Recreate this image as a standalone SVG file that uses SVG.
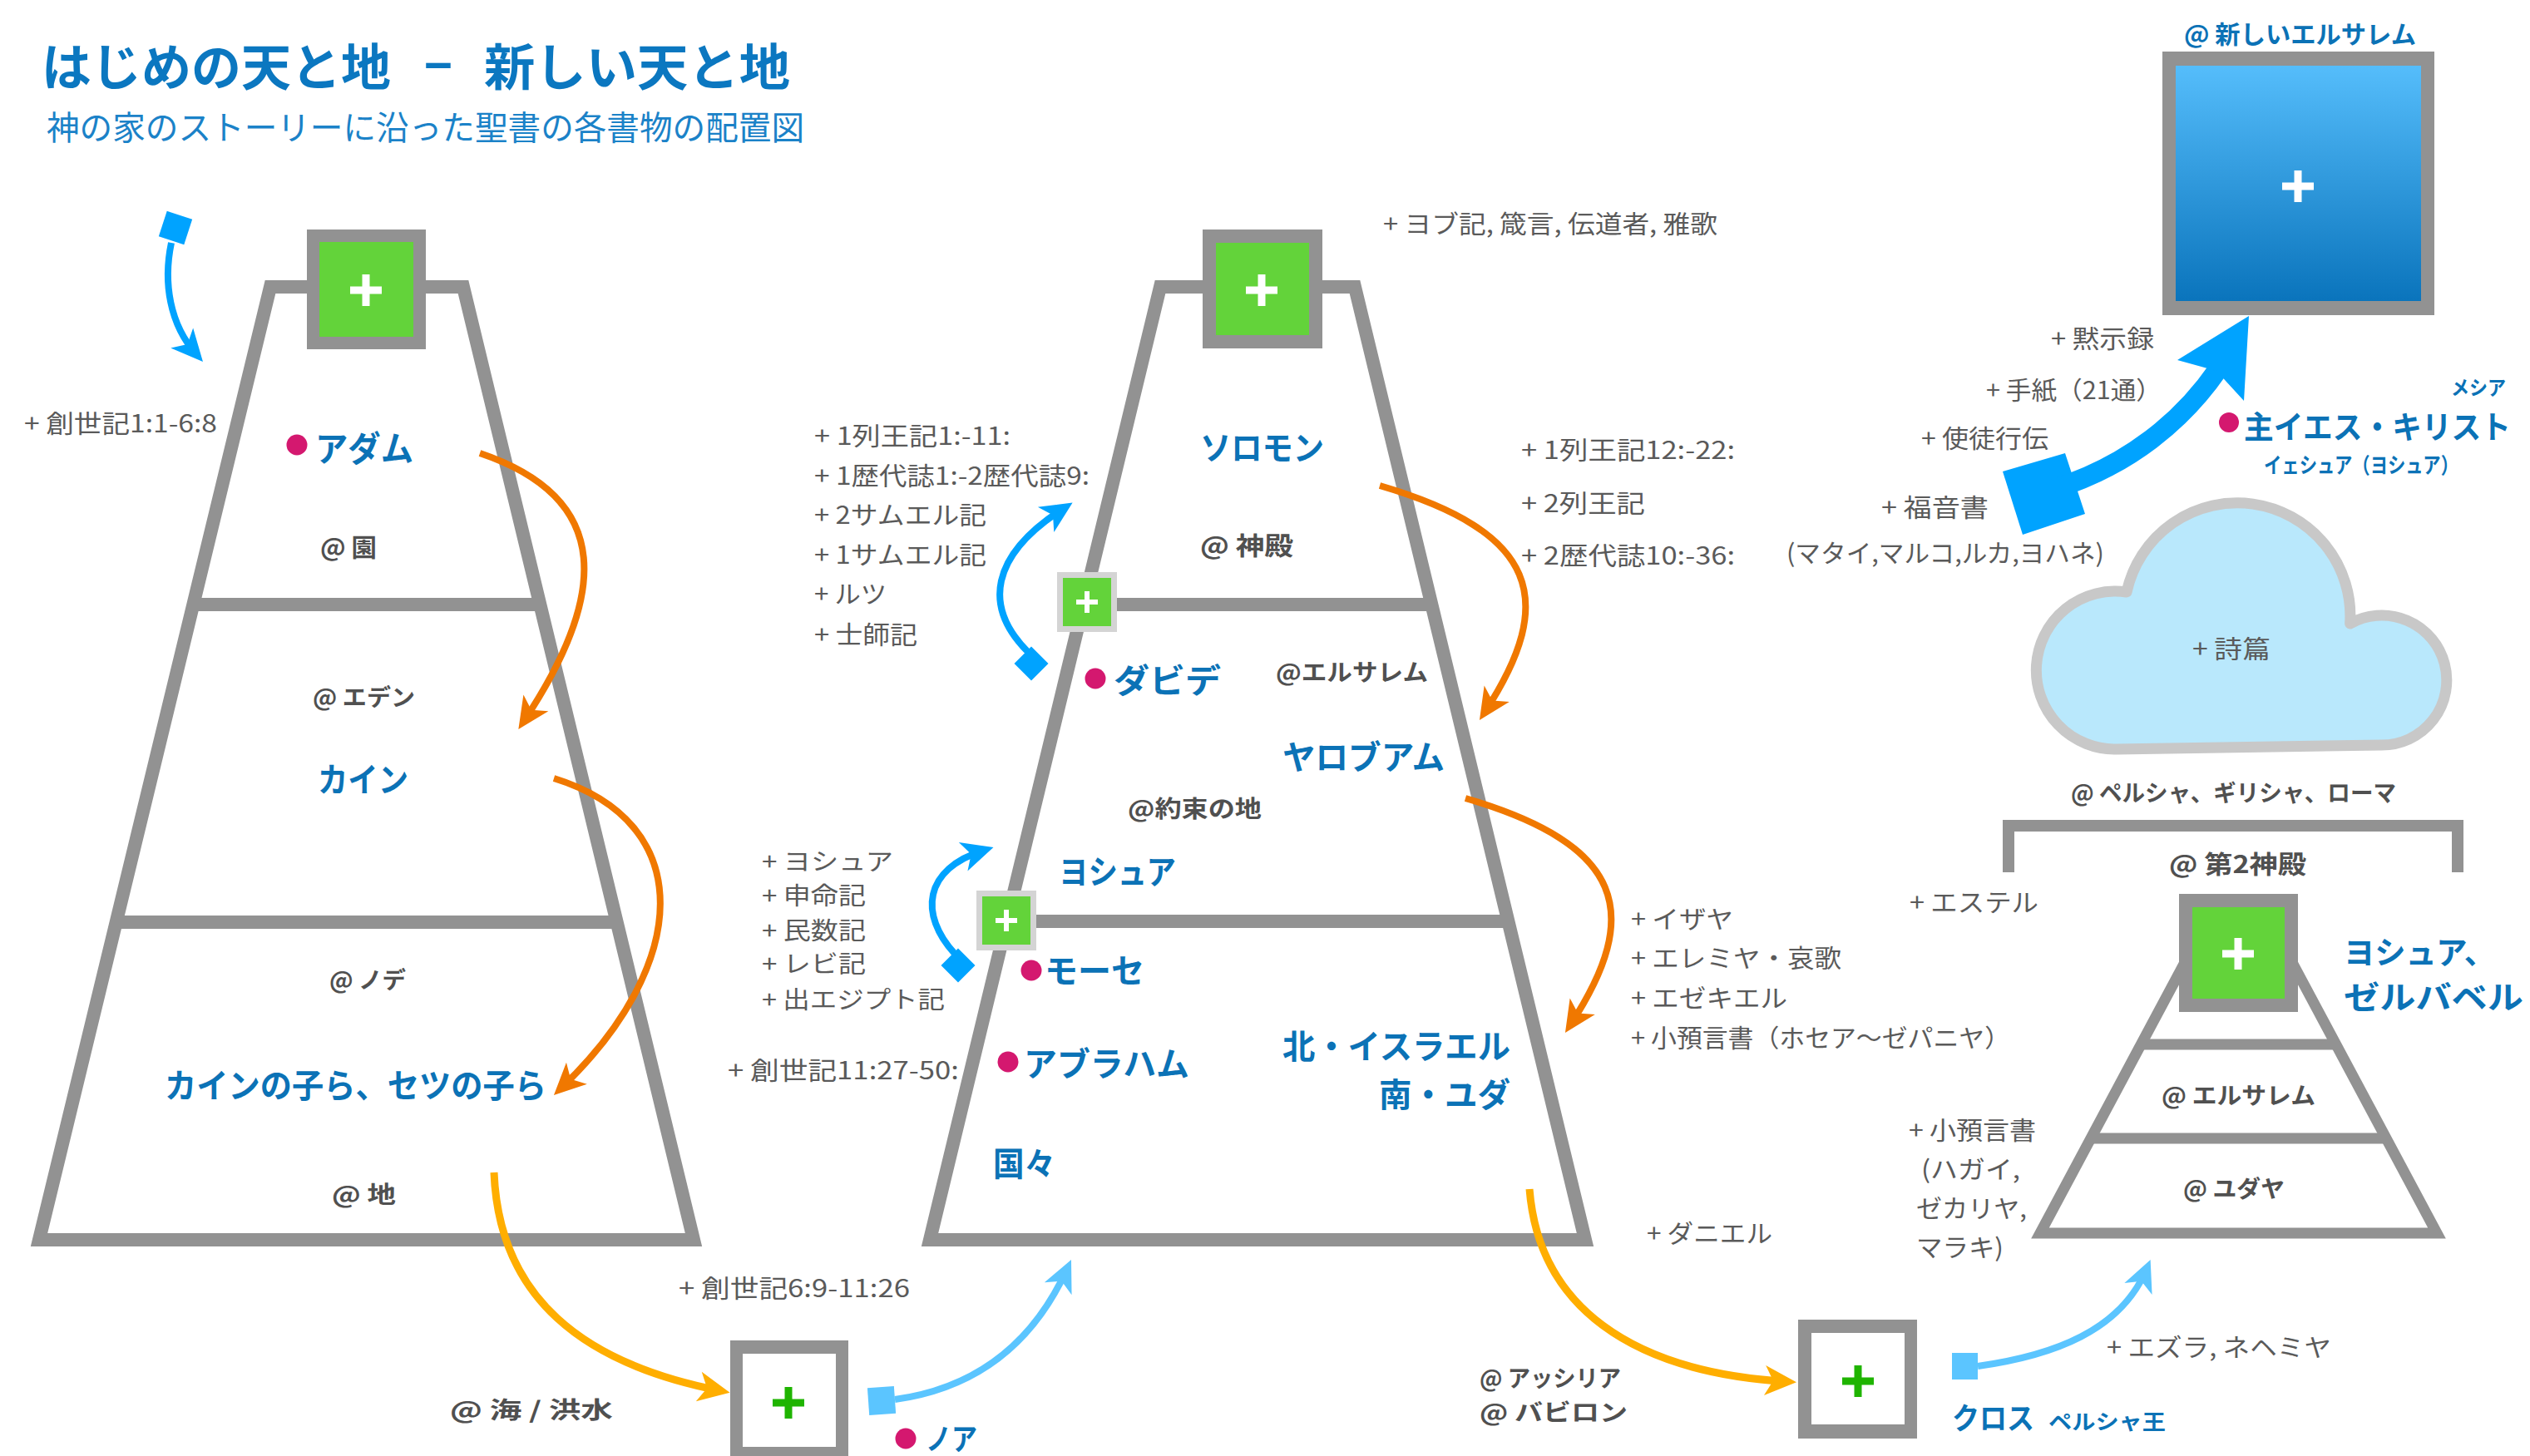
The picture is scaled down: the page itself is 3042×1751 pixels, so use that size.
<svg xmlns="http://www.w3.org/2000/svg" width="3042" height="1751" viewBox="0 0 3042 1751">
<defs>
<style>
text{font-family:"Noto Sans CJK JP","Noto Sans",sans-serif;}
.g{font-size:30px;fill:#5a5a5a;}
.at{font-size:30px;font-weight:700;fill:#505050;}
.nm{font-size:40px;font-weight:700;fill:#0b72b6;}
.frame{fill:none;stroke:#929292;stroke-width:16;stroke-linejoin:miter;}
.div{stroke:#929292;stroke-width:16;}
.dot{fill:#d4186f;}
.pw{stroke:#fff;stroke-width:9;}
.pg{stroke:#1fb400;stroke-width:9;}
.green{fill:#63d33a;}
.gray{fill:#929292;}
.conn{fill:none;}
</style>
<linearGradient id="njGrad" x1="0" y1="0" x2="0" y2="1">
<stop offset="0" stop-color="#55bdfb"/>
<stop offset="1" stop-color="#0a74bc"/>
</linearGradient>
<marker id="ahOrange" markerUnits="userSpaceOnUse" viewBox="-40 -30 60 60" markerWidth="60" markerHeight="60" refX="0" refY="0" orient="auto"><path d="M12,0 L-26,-18 L-16,0 L-26,18 Z" fill="#f07800"/></marker>
<marker id="ahAmber" markerUnits="userSpaceOnUse" viewBox="-40 -30 60 60" markerWidth="60" markerHeight="60" refX="0" refY="0" orient="auto"><path d="M12,0 L-26,-18 L-16,0 L-26,18 Z" fill="#ffae00"/></marker>
<marker id="ahBlue" markerUnits="userSpaceOnUse" viewBox="-40 -30 60 60" markerWidth="60" markerHeight="60" refX="0" refY="0" orient="auto"><path d="M12,0 L-26,-18 L-16,0 L-26,18 Z" fill="#00a3ff"/></marker>
<marker id="ahLight" markerUnits="userSpaceOnUse" viewBox="-40 -30 60 60" markerWidth="60" markerHeight="60" refX="0" refY="0" orient="auto"><path d="M12,0 L-26,-18 L-16,0 L-26,18 Z" fill="#5bc5ff"/></marker>
</defs>
<rect width="3042" height="1751" fill="#ffffff"/>

<g id="title">
<text x="50" y="103" font-size="60" font-weight="700" fill="#0b77c0" textLength="420" lengthAdjust="spacingAndGlyphs">はじめの天と地</text>
<text x="510" y="101" font-size="60" font-weight="700" fill="#0b77c0" textLength="34" lengthAdjust="spacingAndGlyphs">−</text>
<text x="582" y="103" font-size="60" font-weight="700" fill="#0b77c0" textLength="368" lengthAdjust="spacingAndGlyphs">新しい天と地</text>
<text x="56" y="168" font-size="40" fill="#1b82c8" textLength="911" lengthAdjust="spacingAndGlyphs">神の家のストーリーに沿った聖書の各書物の配置図</text>
</g>

<!-- Left pyramid -->
<g id="pyramid-beginning">
<polygon class="frame" points="325,345 557,345 834,1491 47,1491"/>
<line class="div" x1="233" y1="727" x2="649" y2="727"/>
<line class="div" x1="140" y1="1109" x2="742" y2="1109"/>
<rect class="gray" x="369" y="276" width="143" height="144"/>
<rect class="green" x="384" y="291" width="113" height="114"/>
<line class="pw" x1="421" y1="349" x2="459" y2="349"/>
<line class="pw" x1="440" y1="330" x2="440" y2="368"/>
<text class="g" x="29" y="520" textLength="232" lengthAdjust="spacingAndGlyphs">+ 創世記1:1-6:8</text>
<circle class="dot" cx="357" cy="535" r="12.5"/>
<text class="nm" x="379" y="555" style="font-size:42px" textLength="118" lengthAdjust="spacingAndGlyphs">アダム</text>
<text class="at" x="385" y="669" textLength="68" lengthAdjust="spacingAndGlyphs">@ 園</text>
<text class="at" x="376" y="849" style="font-size:28px" textLength="123" lengthAdjust="spacingAndGlyphs">@ エデン</text>
<text class="nm" x="382" y="952" textLength="109" lengthAdjust="spacingAndGlyphs">カイン</text>
<text class="at" x="396" y="1189" style="font-size:28px" textLength="92" lengthAdjust="spacingAndGlyphs">@ ノデ</text>
<text class="nm" x="198" y="1320" textLength="459" lengthAdjust="spacingAndGlyphs">カインの子ら、セツの子ら</text>
<text class="at" x="399" y="1447" style="font-size:28px" textLength="77" lengthAdjust="spacingAndGlyphs">@ 地</text>
</g>

<!-- Noah -->
<g id="noah">
<rect class="gray" x="878" y="1612" width="142" height="143"/>
<rect x="893" y="1628" width="112" height="112" fill="#ffffff"/>
<line class="pg" x1="929" y1="1687" x2="967" y2="1687"/>
<line class="pg" x1="948" y1="1668" x2="948" y2="1706"/>
<text class="g" x="816" y="1560" textLength="278" lengthAdjust="spacingAndGlyphs">+ 創世記6:9-11:26</text>
<text class="at" x="541" y="1706" style="font-size:28px" textLength="196" lengthAdjust="spacingAndGlyphs">@ 海 / 洪水</text>
<circle class="dot" cx="1089" cy="1730" r="12.5"/>
<text class="nm" x="1113" y="1744" style="font-size:36px" textLength="62" lengthAdjust="spacingAndGlyphs">ノア</text>
</g>

<!-- Middle pyramid -->
<g id="pyramid-israel">
<polygon class="frame" points="1395,345 1629,345 1906,1491 1118,1491"/>
<line class="div" x1="1303" y1="727" x2="1721" y2="727"/>
<line class="div" x1="1210" y1="1108" x2="1813" y2="1108"/>
<rect class="gray" x="1446" y="276" width="144" height="143"/>
<rect class="green" x="1462" y="292" width="112" height="111"/>
<line class="pw" x1="1498" y1="349" x2="1536" y2="349"/>
<line class="pw" x1="1517" y1="330" x2="1517" y2="368"/>
<rect x="1271" y="688" width="72" height="72" fill="#d4d4d4"/>
<rect class="green" x="1278" y="695" width="58" height="58"/>
<line x1="1294" y1="724" x2="1320" y2="724" stroke="#fff" stroke-width="6"/>
<line x1="1307" y1="711" x2="1307" y2="737" stroke="#fff" stroke-width="6"/>
<rect x="1174" y="1071" width="72" height="72" fill="#d4d4d4"/>
<rect class="green" x="1181" y="1078" width="58" height="58"/>
<line x1="1197" y1="1107" x2="1223" y2="1107" stroke="#fff" stroke-width="6"/>
<line x1="1210" y1="1094" x2="1210" y2="1120" stroke="#fff" stroke-width="6"/>
<text class="g" x="1663" y="280" textLength="402" lengthAdjust="spacingAndGlyphs">+ ヨブ記, 箴言, 伝道者, 雅歌</text>
<text class="g" x="979" y="535" textLength="236" lengthAdjust="spacingAndGlyphs">+ 1列王記1:-11:</text>
<text class="g" x="979" y="583" textLength="331" lengthAdjust="spacingAndGlyphs">+ 1歴代誌1:-2歴代誌9:</text>
<text class="g" x="979" y="630" textLength="207" lengthAdjust="spacingAndGlyphs">+ 2サムエル記</text>
<text class="g" x="979" y="678" textLength="207" lengthAdjust="spacingAndGlyphs">+ 1サムエル記</text>
<text class="g" x="979" y="725" textLength="87" lengthAdjust="spacingAndGlyphs">+ ルツ</text>
<text class="g" x="979" y="774" textLength="124" lengthAdjust="spacingAndGlyphs">+ 士師記</text>
<text class="nm" x="1443" y="553" textLength="149" lengthAdjust="spacingAndGlyphs">ソロモン</text>
<text class="at" x="1443" y="667" textLength="112" lengthAdjust="spacingAndGlyphs">@ 神殿</text>
<text class="g" x="1829" y="552" textLength="257" lengthAdjust="spacingAndGlyphs">+ 1列王記12:-22:</text>
<text class="g" x="1829" y="616" textLength="149" lengthAdjust="spacingAndGlyphs">+ 2列王記</text>
<text class="g" x="1829" y="679" textLength="257" lengthAdjust="spacingAndGlyphs">+ 2歴代誌10:-36:</text>
<circle class="dot" cx="1317" cy="816" r="12.5"/>
<text class="nm" x="1339" y="833" textLength="129" lengthAdjust="spacingAndGlyphs">ダビデ</text>
<text class="at" x="1534" y="819" style="font-size:28px" textLength="183" lengthAdjust="spacingAndGlyphs">@エルサレム</text>
<text class="nm" x="1542" y="925" textLength="195" lengthAdjust="spacingAndGlyphs">ヤロブアム</text>
<text class="at" x="1356" y="983" style="font-size:28px" textLength="161" lengthAdjust="spacingAndGlyphs">@約束の地</text>
<text class="nm" x="1273" y="1063" textLength="141" lengthAdjust="spacingAndGlyphs">ヨシュア</text>
<text class="g" x="916" y="1047" style="font-size:29px" textLength="158" lengthAdjust="spacingAndGlyphs">+ ヨシュア</text>
<text class="g" x="916" y="1088" style="font-size:29px" textLength="125" lengthAdjust="spacingAndGlyphs">+ 申命記</text>
<text class="g" x="916" y="1130" style="font-size:29px" textLength="125" lengthAdjust="spacingAndGlyphs">+ 民数記</text>
<text class="g" x="916" y="1170" style="font-size:29px" textLength="125" lengthAdjust="spacingAndGlyphs">+ レビ記</text>
<text class="g" x="916" y="1213" style="font-size:29px" textLength="220" lengthAdjust="spacingAndGlyphs">+ 出エジプト記</text>
<circle class="dot" cx="1240" cy="1167" r="12.5"/>
<text class="nm" x="1256" y="1182" textLength="120" lengthAdjust="spacingAndGlyphs">モーセ</text>
<circle class="dot" cx="1212" cy="1277" r="12.5"/>
<text class="nm" x="1231" y="1294" textLength="199" lengthAdjust="spacingAndGlyphs">アブラハム</text>
<text class="g" x="875" y="1298" textLength="278" lengthAdjust="spacingAndGlyphs">+ 創世記11:27-50:</text>
<text class="nm" x="1542" y="1273" textLength="274" lengthAdjust="spacingAndGlyphs">北・イスラエル</text>
<text class="nm" x="1658" y="1331" textLength="158" lengthAdjust="spacingAndGlyphs">南・ユダ</text>
<text class="nm" x="1194" y="1414" textLength="75" lengthAdjust="spacingAndGlyphs">国々</text>
<text class="g" x="1961" y="1116" textLength="123" lengthAdjust="spacingAndGlyphs">+ イザヤ</text>
<text class="g" x="1961" y="1163" textLength="253" lengthAdjust="spacingAndGlyphs">+ エレミヤ・哀歌</text>
<text class="g" x="1961" y="1211" textLength="188" lengthAdjust="spacingAndGlyphs">+ エゼキエル</text>
<text class="g" x="1961" y="1259" textLength="456" lengthAdjust="spacingAndGlyphs">+ 小預言書（ホセア〜ゼパニヤ）</text>
<text class="g" x="1980" y="1494" textLength="151" lengthAdjust="spacingAndGlyphs">+ ダニエル</text>
</g>

<!-- Cyrus -->
<g id="cyrus">
<rect class="gray" x="2162" y="1587" width="143" height="143"/>
<rect x="2178" y="1603" width="112" height="110" fill="#ffffff"/>
<line class="pg" x1="2215" y1="1661" x2="2253" y2="1661"/>
<line class="pg" x1="2234" y1="1642" x2="2234" y2="1680"/>
<text class="at" x="1779" y="1668" style="font-size:28px" textLength="170" lengthAdjust="spacingAndGlyphs">@ アッシリア</text>
<text class="at" x="1779" y="1709" style="font-size:28px" textLength="178" lengthAdjust="spacingAndGlyphs">@ バビロン</text>
<text class="g" x="2533" y="1631" textLength="270" lengthAdjust="spacingAndGlyphs">+ エズラ, ネヘミヤ</text>
<text class="nm" x="2347" y="1719" style="font-size:36px" textLength="99" lengthAdjust="spacingAndGlyphs">クロス</text>
<text class="nm" x="2463" y="1719" style="font-size:25px" textLength="141" lengthAdjust="spacingAndGlyphs">ペルシャ王</text>
</g>

<!-- Second temple pyramid -->
<g id="pyramid-second-temple">
<path d="M2415,1049 V993 H2955 V1049" fill="none" stroke="#929292" stroke-width="14"/>
<polygon points="2453,1483 2930,1483 2736,1120 2647,1120" fill="none" stroke="#929292" stroke-width="13"/>
<line x1="2574" y1="1256" x2="2809" y2="1256" stroke="#929292" stroke-width="13"/>
<line x1="2514" y1="1369" x2="2869" y2="1369" stroke="#929292" stroke-width="13"/>
<rect class="gray" x="2620" y="1075" width="143" height="142"/>
<rect class="green" x="2636" y="1091" width="111" height="110"/>
<line class="pw" x1="2672" y1="1147" x2="2710" y2="1147"/>
<line class="pw" x1="2691" y1="1128" x2="2691" y2="1166"/>
<text class="at" x="2490" y="964" style="font-size:28px" textLength="391" lengthAdjust="spacingAndGlyphs">@ ペルシャ、ギリシャ、ローマ</text>
<text class="at" x="2608" y="1050" textLength="165" lengthAdjust="spacingAndGlyphs">@ 第2神殿</text>
<text class="g" x="2296" y="1096" textLength="155" lengthAdjust="spacingAndGlyphs">+ エステル</text>
<text class="nm" x="2818" y="1159" style="font-size:38px" textLength="182" lengthAdjust="spacingAndGlyphs">ヨシュア、</text>
<text class="nm" x="2818" y="1213" style="font-size:38px" textLength="216" lengthAdjust="spacingAndGlyphs">ゼルバベル</text>
<text class="at" x="2599" y="1328" style="font-size:28px" textLength="185" lengthAdjust="spacingAndGlyphs">@ エルサレム</text>
<text class="at" x="2625" y="1440" style="font-size:28px" textLength="122" lengthAdjust="spacingAndGlyphs">@ ユダヤ</text>
<text class="g" x="2295" y="1370" textLength="153" lengthAdjust="spacingAndGlyphs">+ 小預言書</text>
<text class="g" x="2310" y="1417" textLength="119" lengthAdjust="spacingAndGlyphs">(ハガイ,</text>
<text class="g" x="2304" y="1464" textLength="133" lengthAdjust="spacingAndGlyphs">ゼカリヤ,</text>
<text class="g" x="2304" y="1511" textLength="105" lengthAdjust="spacingAndGlyphs">マラキ)</text>
</g>

<!-- Psalms cloud -->
<g id="psalms">
<path d="M2545,901 A95,95 0 1 1 2557,712 A136,136 0 0 1 2825.6,750 A78,78 0 1 1 2864,896 Z" fill="#b9e8fc" stroke="#c8c8c8" stroke-width="13" stroke-linejoin="round"/>
<text class="g" x="2636" y="791" textLength="94" lengthAdjust="spacingAndGlyphs">+ 詩篇</text>
</g>

<!-- New Jerusalem -->
<g id="new-jerusalem">
<rect class="gray" x="2600" y="62" width="327" height="317"/>
<rect x="2616" y="79" width="295" height="283" fill="url(#njGrad)"/>
<line class="pw" x1="2744" y1="224" x2="2782" y2="224"/>
<line class="pw" x1="2763" y1="205" x2="2763" y2="243"/>
<text x="2626" y="52" font-size="30" font-weight="700" fill="#0b72b6" textLength="279" lengthAdjust="spacingAndGlyphs">@ 新しいエルサレム</text>
</g>

<!-- Jesus -->
<g id="jesus">
<text class="g" x="2466" y="418" textLength="124" lengthAdjust="spacingAndGlyphs">+ 黙示録</text>
<text class="g" x="2388" y="480" textLength="211" lengthAdjust="spacingAndGlyphs">+ 手紙（21通）</text>
<text class="g" x="2310" y="538" textLength="153" lengthAdjust="spacingAndGlyphs">+ 使徒行伝</text>
<text class="g" x="2262" y="621" textLength="129" lengthAdjust="spacingAndGlyphs">+  福音書</text>
<text class="g" x="2148" y="676" textLength="382" lengthAdjust="spacingAndGlyphs">(マタイ,マルコ,ルカ,ヨハネ)</text>
<circle class="dot" cx="2680" cy="508" r="12"/>
<text class="nm" x="2698" y="527" style="font-size:38px" textLength="321" lengthAdjust="spacingAndGlyphs">主イエス・キリスト</text>
<text class="nm" x="2947" y="475" style="font-size:24px" textLength="66" lengthAdjust="spacingAndGlyphs">メシア</text>
<text class="nm" x="2722" y="569" style="font-size:26px" textLength="234" lengthAdjust="spacingAndGlyphs">イェシュア（ヨシュア）</text>
</g>

<!-- Connectors -->
<g id="connectors">
<rect x="-16" y="-16" width="32" height="32" fill="#00a3ff" transform="translate(211,274) rotate(18)"/>
<path class="conn" d="M206,292 C196,340 204,390 236,426" stroke="#00a3ff" stroke-width="8" marker-end="url(#ahBlue)"/>
<path class="conn" d="M577,545 C740,600 729,718 630,867" stroke="#f07800" stroke-width="8" marker-end="url(#ahOrange)"/>
<path class="conn" d="M666,936 C840,990 830,1160 674.6,1308.7" stroke="#f07800" stroke-width="8" marker-end="url(#ahOrange)"/>
<path class="conn" d="M594,1410 C600,1560 700,1640 865.8,1672.5" stroke="#ffae00" stroke-width="9" marker-end="url(#ahAmber)"/>
<rect x="-16" y="-16" width="32" height="33" fill="#5bc5ff" transform="translate(1060,1684) rotate(-4)"/>
<path class="conn" d="M1076,1683 C1170,1670 1240,1620 1283,1526" stroke="#5bc5ff" stroke-width="8" marker-end="url(#ahLight)"/>
<rect x="-14.5" y="-14.5" width="29" height="29" fill="#00a3ff" transform="translate(1240,798) rotate(45)"/>
<path class="conn" d="M1236,784 C1182,730 1190,668 1279.5,610.9" stroke="#00a3ff" stroke-width="8" marker-end="url(#ahBlue)"/>
<rect x="-14.5" y="-14.5" width="29" height="29" fill="#00a3ff" transform="translate(1152,1161) rotate(45)"/>
<path class="conn" d="M1148,1147 C1105,1100 1110,1045 1183,1022.6" stroke="#00a3ff" stroke-width="8" marker-end="url(#ahBlue)"/>
<path class="conn" d="M1659,584 C1850,640 1873,722 1785.5,856" stroke="#f07800" stroke-width="8" marker-end="url(#ahOrange)"/>
<path class="conn" d="M1762,960 C1953,1016 1976,1098 1888.5,1232" stroke="#f07800" stroke-width="8" marker-end="url(#ahOrange)"/>
<path class="conn" d="M1839,1430 C1850,1570 1960,1650 2148,1661.5" stroke="#ffae00" stroke-width="9" marker-end="url(#ahAmber)"/>
<rect x="2347" y="1627" width="31" height="32" fill="#5bc5ff"/>
<path class="conn" d="M2378,1643 C2470,1630 2550,1600 2581,1526" stroke="#5bc5ff" stroke-width="8" marker-end="url(#ahLight)"/>
<polygon points="2408,567 2483,545 2507,618 2432,643" fill="#00a3ff"/>
<path class="conn" d="M2470,588 C2560,560 2625,505 2667,444" stroke="#00a3ff" stroke-width="24"/>
<polygon points="2704,380 2618,433 2665,446 2698,482" fill="#00a3ff"/>
</g>
</svg>
